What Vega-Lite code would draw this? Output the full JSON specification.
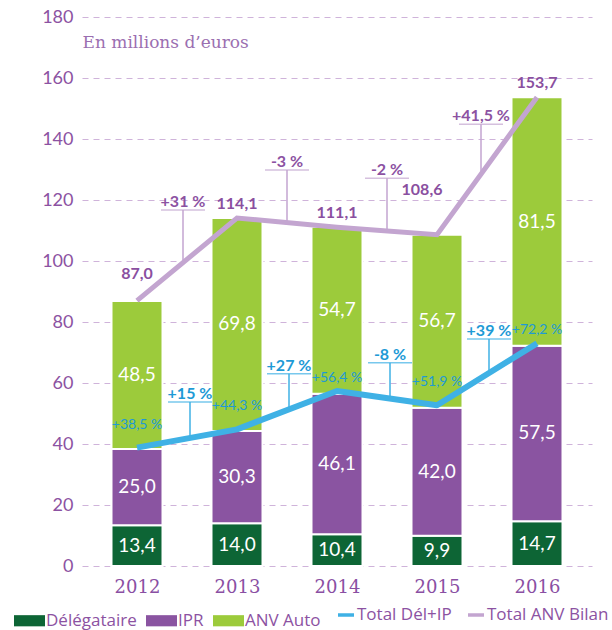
{
  "$schema": "https://vega.github.io/schema/vega-lite/v6.json",
  "width": 510,
  "height": 549,
  "autosize": "none",
  "padding": {"left": 82, "top": 17, "right": 20, "bottom": 64},
  "config": {
    "locale": {"number": {"decimal": ",", "thousands": " ", "grouping": [3], "currency": ["", " €"]}},
    "view": {"stroke": null},
    "font": "Lato",
    "legend": {
      "orient": "none",
      "legendY": 588,
      "direction": "horizontal",
      "labelFont": "Open Sans",
      "labelFontSize": 17,
      "labelColor": "#8c52a2",
      "labelOffset": 1,
      "columnPadding": 9
    }
  },
  "resolve": {"scale": {"color": "independent"}, "legend": {"color": "independent"}},
  "datasets": {
    "bars": [
      {"year": 2012, "series": "Délégataire", "value": 13.4},
      {"year": 2012, "series": "IPR", "value": 25.0},
      {"year": 2012, "series": "ANV Auto", "value": 48.5},
      {"year": 2013, "series": "Délégataire", "value": 14.0},
      {"year": 2013, "series": "IPR", "value": 30.3},
      {"year": 2013, "series": "ANV Auto", "value": 69.8},
      {"year": 2014, "series": "Délégataire", "value": 10.4},
      {"year": 2014, "series": "IPR", "value": 46.1},
      {"year": 2014, "series": "ANV Auto", "value": 54.7},
      {"year": 2015, "series": "Délégataire", "value": 9.9},
      {"year": 2015, "series": "IPR", "value": 42.0},
      {"year": 2015, "series": "ANV Auto", "value": 56.7},
      {"year": 2016, "series": "Délégataire", "value": 14.7},
      {"year": 2016, "series": "IPR", "value": 57.5},
      {"year": 2016, "series": "ANV Auto", "value": 81.5}
    ],
    "totals": [
      {"year": 2012, "series": "Total Dél+IP", "value": 38.8, "note": "+38,5 %", "grp": "a"},
      {"year": 2013, "series": "Total Dél+IP", "value": 44.8, "note": "+44,3 %", "grp": "a"},
      {"year": 2014, "series": "Total Dél+IP", "value": 57.4, "note": "+56,4 %", "grp": "b"},
      {"year": 2015, "series": "Total Dél+IP", "value": 52.7, "note": "+51,9 %", "grp": "a"},
      {"year": 2016, "series": "Total Dél+IP", "value": 73.0, "note": "+72,2 %", "grp": "b"},
      {"year": 2012, "series": "Total ANV Bilan", "value": 87.0, "grp": "c"},
      {"year": 2013, "series": "Total ANV Bilan", "value": 114.1, "grp": "a"},
      {"year": 2014, "series": "Total ANV Bilan", "value": 111.1, "grp": "a"},
      {"year": 2015, "series": "Total ANV Bilan", "value": 108.6, "grp": "d"},
      {"year": 2016, "series": "Total ANV Bilan", "value": 153.7, "grp": "a"}
    ],
    "notes": [
      {"year": 2012.46, "ly": 116.7, "ty": 100.0, "label": "+31 %", "kind": "bilan"},
      {"year": 2013.5, "ly": 129.8, "ty": 112.6, "label": "-3 %", "kind": "bilan"},
      {"year": 2014.5, "ly": 127.1, "ty": 109.9, "label": "-2 %", "kind": "bilan"},
      {"year": 2015.44, "ly": 144.8, "ty": 128.4, "label": "+41,5 %", "kind": "bilan"},
      {"year": 2012.53, "ly": 53.8, "ty": 42.0, "label": "+15 %", "kind": "delip"},
      {"year": 2013.52, "ly": 63.0, "ty": 51.4, "label": "+27 %", "kind": "delip"},
      {"year": 2014.53, "ly": 66.6, "ty": 54.9, "label": "-8 %", "kind": "delip"},
      {"year": 2015.52, "ly": 74.4, "ty": 63.3, "label": "+39 %", "kind": "delip"}
    ]
  },
  "encoding": {
    "x": {
      "field": "year",
      "type": "quantitative",
      "scale": {"domain": [2011.5, 2016.5]},
      "axis": {
        "values": [2012, 2013, 2014, 2015, 2016],
        "format": "d",
        "title": null,
        "grid": false,
        "domain": false,
        "ticks": false,
        "labelFont": "DejaVu Serif",
        "labelFontSize": 18,
        "labelFontWeight": "normal",
        "labelColor": "#8a4fa3",
        "labelPadding": 12
      }
    }
  },
  "layer": [
    {
      "data": {"name": "bars"},
      "transform": [
        {"calculate": "indexof(['Délégataire','IPR','ANV Auto'], datum.series)", "as": "ord"},
        {"stack": "value", "groupby": ["year"], "sort": [{"field": "ord", "order": "ascending"}], "as": ["v0", "v1"]},
        {"calculate": "(datum.v0 + datum.v1) / 2", "as": "mid"}
      ],
      "layer": [
        {
          "mark": {"type": "bar", "width": 51, "stroke": "white", "strokeWidth": 2},
          "encoding": {
            "y": {
              "field": "v0",
              "type": "quantitative",
              "scale": {"domain": [0, 180]},
              "axis": {
                "values": [0, 20, 40, 60, 80, 100, 120, 140, 160, 180],
                "title": "En millions d’euros",
                "titleAngle": 0,
                "titleAlign": "left",
                "titleBaseline": "middle",
                "titleX": 0,
                "titleY": 25,
                "titleFont": "DejaVu Serif",
                "titleFontSize": 17,
                "titleFontWeight": "normal",
                "titleColor": "#9b6fb1",
                "labelFont": "Lato",
                "labelFontSize": 18,
                "labelColor": "#8c52a2",
                "labelPadding": 9,
                "domain": false,
                "ticks": false,
                "grid": true,
                "gridColor": "#cfb3da",
                "gridDash": [6, 5],
                "gridWidth": 1
              }
            },
            "y2": {"field": "v1"},
            "color": {
              "field": "series",
              "type": "nominal",
              "sort": ["Délégataire", "IPR", "ANV Auto"],
              "scale": {
                "domain": ["Délégataire", "IPR", "ANV Auto"],
                "range": ["#0d6535", "#8a54a1", "#9ccb3b"]
              },
              "legend": {
                "title": null,
                "legendX": -68,
                "columns": 3,
                "symbolType": "M-1,-0.36H1V0.36H-1Z",
                "symbolSize": 961,
                "symbolStrokeWidth": 0
              }
            }
          }
        },
        {
          "mark": {"type": "text", "color": "white", "font": "Lato", "fontSize": 19, "baseline": "middle"},
          "encoding": {
            "y": {"field": "mid", "type": "quantitative"},
            "text": {"field": "value", "type": "quantitative", "format": ".1f"}
          }
        }
      ]
    },
    {
      "data": {"name": "notes"},
      "layer": [
        {
          "transform": [{"filter": "datum.kind == 'bilan'"}],
          "layer": [
            {"mark": {"type": "rule", "color": "#c3a5d0", "strokeWidth": 1.5}, "encoding": {"y": {"field": "ly", "type": "quantitative"}, "y2": {"field": "ty"}}},
            {"mark": {"type": "tick", "orient": "horizontal", "color": "#c3a5d0", "size": 44, "thickness": 1.5}, "encoding": {"y": {"field": "ly", "type": "quantitative"}}},
            {"mark": {"type": "text", "color": "#8c52a2", "font": "Lato", "fontSize": 16, "fontWeight": "bold", "baseline": "alphabetic", "dy": -3}, "encoding": {"y": {"field": "ly", "type": "quantitative"}, "text": {"field": "label"}}}
          ]
        },
        {
          "transform": [{"filter": "datum.kind == 'delip'"}],
          "layer": [
            {"mark": {"type": "rule", "color": "#3fb1e5", "strokeWidth": 1.5}, "encoding": {"y": {"field": "ly", "type": "quantitative"}, "y2": {"field": "ty"}}},
            {"mark": {"type": "tick", "orient": "horizontal", "color": "#3fb1e5", "size": 44, "thickness": 1.5}, "encoding": {"y": {"field": "ly", "type": "quantitative"}}},
            {"mark": {"type": "text", "color": "#1e9ad6", "font": "Lato", "fontSize": 16, "fontWeight": "bold", "baseline": "alphabetic", "dy": -3}, "encoding": {"y": {"field": "ly", "type": "quantitative"}, "text": {"field": "label"}}}
          ]
        }
      ]
    },
    {
      "data": {"name": "totals"},
      "layer": [
        {
          "transform": [{"filter": "datum.series == 'Total ANV Bilan'"}],
          "mark": {"type": "line", "strokeWidth": 5, "strokeJoin": "miter"},
          "encoding": {
            "y": {"field": "value", "type": "quantitative"},
            "color": {
              "field": "series",
              "type": "nominal",
              "sort": ["Total Dél+IP", "Total ANV Bilan"],
              "scale": {"domain": ["Total Dél+IP", "Total ANV Bilan"], "range": ["#3fb1e5", "#c3a5d0"]},
              "legend": {"title": null, "legendX": 254, "columns": 2, "symbolType": "stroke", "symbolSize": 256, "symbolStrokeWidth": 3.5}
            }
          }
        },
        {
          "transform": [{"filter": "datum.series == 'Total Dél+IP'"}],
          "mark": {"type": "line", "strokeWidth": 6, "strokeJoin": "round"},
          "encoding": {
            "y": {"field": "value", "type": "quantitative"},
            "color": {
              "field": "series",
              "type": "nominal",
              "sort": ["Total Dél+IP", "Total ANV Bilan"],
              "legend": {"title": null, "legendX": 254, "columns": 2, "symbolType": "stroke", "symbolSize": 256, "symbolStrokeWidth": 3.5}
            }
          }
        },
        {
          "transform": [{"filter": "datum.series == 'Total Dél+IP' && datum.grp == 'a'"}],
          "mark": {"type": "text", "color": "#1e9ad6", "font": "Lato", "fontSize": 14, "baseline": "middle", "dy": -23},
          "encoding": {"y": {"field": "value", "type": "quantitative"}, "text": {"field": "note"}}
        },
        {
          "transform": [{"filter": "datum.series == 'Total Dél+IP' && datum.grp == 'b'"}],
          "mark": {"type": "text", "color": "#1e9ad6", "font": "Lato", "fontSize": 14, "baseline": "middle", "dy": -13},
          "encoding": {"y": {"field": "value", "type": "quantitative"}, "text": {"field": "note"}}
        },
        {
          "transform": [{"filter": "datum.series == 'Total ANV Bilan' && datum.grp == 'a'"}],
          "mark": {"type": "text", "color": "#8a4fa0", "font": "Lato", "fontSize": 16, "fontWeight": "bold", "baseline": "middle", "dy": -14},
          "encoding": {"y": {"field": "value", "type": "quantitative"}, "text": {"field": "value", "type": "quantitative", "format": ".1f"}}
        },
        {
          "transform": [{"filter": "datum.series == 'Total ANV Bilan' && datum.grp == 'c'"}],
          "mark": {"type": "text", "color": "#8a4fa0", "font": "Lato", "fontSize": 16, "fontWeight": "bold", "baseline": "middle", "dy": -27},
          "encoding": {"y": {"field": "value", "type": "quantitative"}, "text": {"field": "value", "type": "quantitative", "format": ".1f"}}
        },
        {
          "transform": [{"filter": "datum.series == 'Total ANV Bilan' && datum.grp == 'd'"}],
          "mark": {"type": "text", "color": "#8a4fa0", "font": "Lato", "fontSize": 16, "fontWeight": "bold", "baseline": "middle", "dx": -15, "dy": -45},
          "encoding": {"y": {"field": "value", "type": "quantitative"}, "text": {"field": "value", "type": "quantitative", "format": ".1f"}}
        }
      ]
    }
  ]
}
